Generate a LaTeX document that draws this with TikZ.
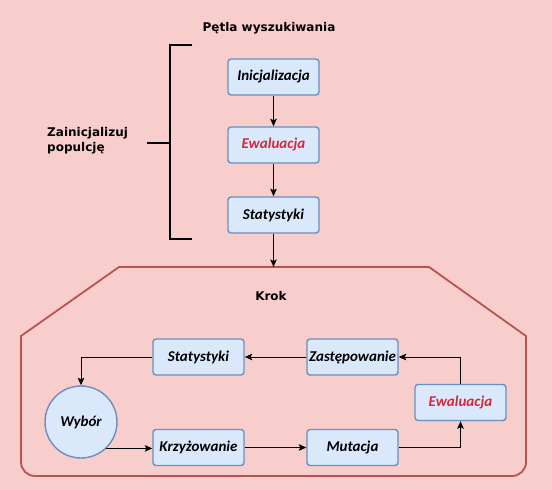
\documentclass[tikz,border=0pt]{standalone}
\usepackage{fontspec}
\newfontfamily\boxfont{Carlito}
\newfontfamily\lblfont{DejaVu Sans}
\usetikzlibrary{arrows.meta}
\definecolor{bgpink}{HTML}{F8CECC}
\definecolor{octline}{HTML}{B85450}
\definecolor{boxfill}{HTML}{DAE8FC}
\definecolor{boxline}{HTML}{6C8EBF}
\definecolor{redtext}{RGB}{214,40,57}
\tikzset{
  stepbox/.style={draw=boxline, fill=boxfill, line width=1.4pt, rounded corners=3pt,
    minimum width=91pt, minimum height=36pt, inner sep=0pt,
    font=\boxfont\bfseries\itshape\fontsize{15}{17}\selectfont},
  circbox/.style={draw=boxline, fill=boxfill, line width=1.4pt, circle,
    minimum size=72pt, inner sep=0pt,
    font=\boxfont\bfseries\itshape\fontsize{15}{17}\selectfont},
  lbl/.style={font=\lblfont\bfseries\fontsize{12}{15}\selectfont, inner sep=0pt},
  conn/.style={draw=black, line width=1pt, -{Stealth[length=7.5pt,width=6.5pt,inset=1.5pt]}},
  bracket/.style={draw=black, line width=1.8pt},
  octo/.style={draw=octline, line width=1.8pt}
}
\begin{document}
\begin{tikzpicture}[x=1pt,y=-1pt]
\fill[bgpink] (0,0) rectangle (552,490);
\useasboundingbox (0,0) rectangle (552,490);

% octagon (Krok)
\draw[octo] (21,400) [rounded corners=14pt] -- (21,476) -- (526,476) -- (526,400)
  [sharp corners] -- (526,336) -- (429,267) -- (119,267) -- (21,336) -- cycle;
\coordinate (octtop) at (273.5,267);

% bracket
\coordinate (brTopEnd) at (192,45);
\coordinate (brTop) at (170,45);
\coordinate (brBot) at (170,239);
\coordinate (brBotEnd) at (192,239);
\coordinate (brMid) at (170,143);
\coordinate (brTick) at (147,143);
\draw[bracket] (brTopEnd) -- (brTop) -- (brBot) -- (brBotEnd);
\draw[bracket] (brTick) -- (brMid);

% labels
\node[lbl] (title) at (269,28) {Pętla wyszukiwania};
\node[lbl, align=left, anchor=west] (init-lbl) at (47,141) {Zainicjalizuj\\populcję};
\node[lbl] (krok) at (271,296) {Krok};

% top column
\node[stepbox] (init) at (273.5,77) {Inicjalizacja};
\node[stepbox, text=redtext] (ewal1) at (273.5,145) {Ewaluacja};
\node[stepbox] (stat1) at (273.5,215) {Statystyki};

\draw[conn] (init) -- (ewal1);
\draw[conn] (ewal1) -- (stat1);
\draw[conn] (stat1) -- (octtop);

% loop
\node[stepbox] (stat2) at (198.5,357) {Statystyki};
\node[stepbox] (zast) at (352.5,357) {Zastępowanie};
\node[stepbox, text=redtext] (ewal2) at (460.5,402.5) {Ewaluacja};
\node[stepbox] (krzyz) at (198.5,447.5) {Krzyżowanie};
\node[stepbox] (mut) at (352.5,447.5) {Mutacja};
\node[circbox] (wybor) at (81,422) {Wybór};

\draw[conn] (stat2.west) -| (wybor.north);
\draw[conn] (wybor.-46) -- (krzyz.west |- wybor.-46);
\draw[conn] (krzyz) -- (mut);
\draw[conn] (mut.east) -| (ewal2.south);
\draw[conn] (ewal2.north) |- (zast.east);
\draw[conn] (zast) -- (stat2);
\end{tikzpicture}
\end{document}
